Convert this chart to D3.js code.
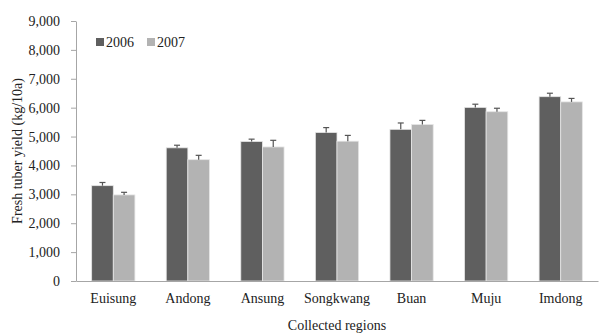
<!DOCTYPE html>
<html>
<head>
<meta charset="utf-8">
<script src="https://cdn.jsdelivr.net/npm/d3@7"></script>
<style>
  html, body { margin: 0; padding: 0; background: #fff; }
  svg { display: block; }
  svg text { font-family: "Liberation Serif", "Times New Roman", serif; }
</style>
</head>
<body>
<svg id="chart" width="599" height="334"></svg>
<script>
// Fresh tuber yield by collection region, 2006 vs 2007
const regions = ["Euisung", "Andong", "Ansung", "Songkwang", "Buan", "Muju", "Imdong"];
const years = ["2006", "2007"];
const yield2006 = [3300, 4610, 4830, 5140, 5250, 6010, 6380];
const yield2007 = [2980, 4200, 4640, 4840, 5420, 5860, 6200];
const err2006 = [110, 90, 80, 170, 220, 110, 120];
const err2007 = [90, 150, 230, 200, 140, 120, 120];
const yTicks = [0, 1000, 2000, 3000, 4000, 5000, 6000, 7000, 8000, 9000];

const colors = { "2006": "#5f5f5f", "2007": "#b3b3b3" };
const FS = 14;

const svg = d3.select("#chart");
const margin = { left: 76, right: 1, top: 21, bottom: 53 };
const W = 599, H = 334;

const x = d3.scaleBand().domain(regions).range([margin.left, W - margin.right]).paddingInner(0.42).paddingOuter(0.21);
const xs = d3.scaleBand().domain(years).range([0, x.bandwidth()]);
const y = d3.scaleLinear().domain([0, 9000]).range([H - margin.bottom, margin.top]);

const rows = regions.map((r, i) => ({
  region: r,
  vals: [
    { year: "2006", v: yield2006[i], e: err2006[i] },
    { year: "2007", v: yield2007[i], e: err2007[i] }
  ]
}));

// Bars
const g = svg.append("g");
const grp = g.selectAll("g.region").data(rows).join("g")
  .attr("class", "region")
  .attr("transform", d => `translate(${x(d.region)},0)`);

grp.selectAll("rect").data(d => d.vals).join("rect")
  .attr("x", d => xs(d.year))
  .attr("y", d => y(d.v))
  .attr("width", xs.bandwidth())
  .attr("height", d => y(0) - y(d.v))
  .attr("fill", d => colors[d.year])
  .attr("stroke", "#e6e6e6")
  .attr("stroke-width", 0.8);

// Error bars (upper only)
const eb = grp.selectAll("g.err").data(d => d.vals).join("g").attr("class", "err");
eb.append("line")
  .attr("x1", d => xs(d.year) + xs.bandwidth() / 2)
  .attr("x2", d => xs(d.year) + xs.bandwidth() / 2)
  .attr("y1", d => y(d.v))
  .attr("y2", d => y(d.v + d.e))
  .attr("stroke", "#555").attr("stroke-width", 1.2);
eb.append("line")
  .attr("x1", d => xs(d.year) + xs.bandwidth() / 2 - 3)
  .attr("x2", d => xs(d.year) + xs.bandwidth() / 2 + 3)
  .attr("y1", d => y(d.v + d.e))
  .attr("y2", d => y(d.v + d.e))
  .attr("stroke", "#555").attr("stroke-width", 1.2);

// Y axis
const yAxis = svg.append("g")
  .attr("transform", `translate(${margin.left},0)`)
  .call(d3.axisLeft(y).tickValues(yTicks).tickFormat(d3.format(",")).tickSize(5).tickSizeOuter(0));
yAxis.select(".domain").attr("stroke", "#a6a6a6");
yAxis.selectAll(".tick line").attr("stroke", "#a6a6a6");
yAxis.selectAll(".tick text").attr("font-size", FS).attr("fill", "#222").attr("x", -16);

// X axis
const xAxis = svg.append("g")
  .attr("transform", `translate(0,${y(0)})`)
  .call(d3.axisBottom(x).tickSize(0).tickSizeOuter(0));
xAxis.select(".domain").attr("stroke", "#a6a6a6").attr("stroke-width", 1.2);
xAxis.selectAll(".tick text").attr("font-size", FS).attr("fill", "#222").attr("dy", 0).attr("y", 22);

// Axis titles
svg.append("text")
  .attr("x", (margin.left + W - margin.right) / 2)
  .attr("y", 330)
  .attr("text-anchor", "middle")
  .attr("font-size", FS).attr("fill", "#222")
  .text("Collected regions");

svg.append("text")
  .attr("transform", `translate(22,${(y(0) + y(9000)) / 2}) rotate(-90)`)
  .attr("text-anchor", "middle")
  .attr("font-size", FS).attr("fill", "#222")
  .text("Fresh tuber yield (kg/10a)");

// Legend
const legend = svg.append("g").attr("transform", "translate(96,47)");
const li = legend.selectAll("g").data(years).join("g")
  .attr("transform", (d, i) => `translate(${i * 51},0)`);
li.append("rect").attr("x", 0).attr("y", -9).attr("width", 8).attr("height", 8)
  .attr("fill", d => colors[d]);
li.append("text").attr("x", 10).attr("y", 0).attr("font-size", FS).attr("fill", "#222").text(d => d);
</script>
</body>
</html>
